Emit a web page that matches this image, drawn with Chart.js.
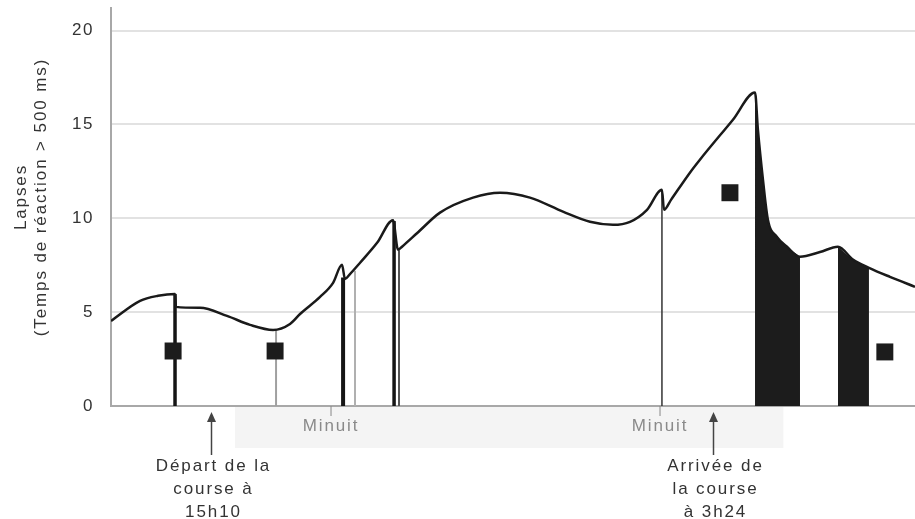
<!DOCTYPE html>
<html>
<head>
<meta charset="utf-8">
<script src="https://cdn.jsdelivr.net/npm/chart.js@4.4.1/dist/chart.umd.min.js"></script>
<style>
    html, body { margin: 0; padding: 0; background: #fff; }
    canvas { display: block; }
</style>
</head>
<body>
<canvas id="lapses" width="915" height="519"></canvas>
<script>
// temps en heures depuis le premier minuit, lapses
const curveHours = [-16.05, -13.93, -12.62, -11.38, -11.31, -9.56, -7.59, -5.91, -4.23, -2.99, -2.26, -0.80,
    0.15, 0.80, 1.02, 1.35, 2.12, 3.36, 4.52, 4.89, 5.2, 6.27, 7.95, 10.36, 12.33, 14.51, 16.92, 18.89, 20.57,
    21.81, 23.05, 24.14, 24.29, 24.8, 26.18, 26.91, 29.32, 30.93, 31.14, 31.51, 31.87, 32.53, 33.26, 34.21,
    35.67, 36.98, 38.07, 39.24, 40.77, 42.60];
const curveLapses = [4.53, 5.6, 5.87, 5.97, 5.28, 5.23, 4.8, 4.32, 4.05, 4.37, 4.9, 5.81,
    6.56, 7.52, 6.77, 7.0, 7.63, 8.69, 9.9, 8.32, 8.5, 9.2, 10.3, 11.1, 11.36, 11.1, 10.35, 9.81, 9.65,
    9.81, 10.45, 11.52, 10.45, 10.98, 12.43, 13.12, 15.25, 16.7, 14.72, 12.05, 9.92, 9.01, 8.48, 7.95,
    8.2, 8.48, 7.8, 7.36, 6.88, 6.35];

// zones noires sous la courbe (début, fin en heures)
const blackStart = [30.93, 36.98];
const blackEnd = [34.21, 39.24];

// traits verticaux
const dropHours = [-11.38, -4.01, 0.88, 1.75, 4.6, 4.96, 24.14];
const dropTop = [5.97, 4.05, 6.85, 7.2, 9.85, 8.3, 11.5];

// carrés
const squareHours = [-11.52, -4.08, 29.1, 40.4];
const squareLapses = [2.93, 2.93, 11.36, 2.88];

const yTicks = [0, 5, 10, 15, 20];
const midnightHours = [0, 24];
const eventHours = [-8.75, 27.87];
const eventLabels = [['Départ de la', 'course à', '15h10'], ['Arrivée de', 'la course', 'à 3h24']];
const nightBand = [-7.0, 33.0];
const yTitle = ['Lapses', '(Temps de réaction > 500 ms)'];

const FONT = "'Liberation Sans', Arial, sans-serif";
const dropStyle = [
    {w: 3.5, c: '#151515'}, {w: 2, c: '#a0a0a0'}, {w: 4, c: '#151515'}, {w: 2, c: '#b0b0b0'},
    {w: 3.5, c: '#151515'}, {w: 2, c: '#555'}, {w: 1.5, c: '#333'}
];

const curvePts = curveHours.map((h, i) => ({x: h, y: curveLapses[i]}));

const datasets = [];
datasets.push({
    data: squareHours.map((h, i) => ({x: h, y: squareLapses[i]})),
    showLine: false,
    pointStyle: 'rect',
    pointRadius: 12,
    pointBackgroundColor: '#1c1c1c',
    pointBorderWidth: 0
});
datasets.push({
    data: curvePts,
    showLine: true,
    borderColor: '#1a1a1a',
    borderWidth: 2.5,
    pointRadius: 0,
    cubicInterpolationMode: 'monotone',
    fill: false
});
for (let i = 0; i < dropHours.length; i++) {
    datasets.push({
        data: [{x: dropHours[i], y: 0}, {x: dropHours[i], y: dropTop[i]}],
        showLine: true,
        borderColor: dropStyle[i].c,
        borderWidth: dropStyle[i].w,
        pointRadius: 0,
        fill: false
    });
}
for (let i = 0; i < blackStart.length; i++) {
    datasets.push({
        data: curvePts.filter(p => p.x >= blackStart[i] && p.x <= blackEnd[i]),
        showLine: true,
        borderWidth: 0,
        borderColor: 'transparent',
        backgroundColor: '#1c1c1c',
        pointRadius: 0,
        cubicInterpolationMode: 'monotone',
        fill: 'origin'
    });
}

const decorations = {
    id: 'decorations',
    beforeDraw(chart) {
        const ctx = chart.ctx;
        const x = chart.scales.x;
        const area = chart.chartArea;
        ctx.letterSpacing = '1.5px';
        // bande grise sous l'axe
        ctx.save();
        ctx.fillStyle = '#f4f4f4';
        const b0 = x.getPixelForValue(nightBand[0]);
        const b1 = x.getPixelForValue(nightBand[1]);
        ctx.fillRect(b0, area.bottom + 1, b1 - b0, 41);
        ctx.restore();
    },
    afterDraw(chart) {
        const ctx = chart.ctx;
        const x = chart.scales.x;
        const area = chart.chartArea;
        ctx.save();
        ctx.letterSpacing = '1.9px';
        ctx.font = '17px ' + FONT;
        ctx.textAlign = 'center';
        ctx.textBaseline = 'middle';

        // titre de l'axe y
        ctx.fillStyle = '#333';
        ctx.save();
        ctx.translate(21, 197);
        ctx.rotate(-Math.PI / 2);
        ctx.fillText(yTitle[0], 0, 0);
        ctx.fillText(yTitle[1], 0, 20);
        ctx.restore();

        // minuit
        midnightHours.forEach(h => {
            const px = x.getPixelForValue(h);
            ctx.strokeStyle = '#888';
            ctx.lineWidth = 1;
            ctx.beginPath();
            ctx.moveTo(px, area.bottom);
            ctx.lineTo(px, area.bottom + 10);
            ctx.stroke();
            ctx.fillStyle = '#8a8a8a';
            ctx.fillText('Minuit', px, area.bottom + 20);
        });

        // départ / arrivée
        eventHours.forEach((h, i) => {
            const px = Math.round(x.getPixelForValue(h)) + 0.5;
            ctx.strokeStyle = '#444';
            ctx.fillStyle = '#444';
            ctx.lineWidth = 1.5;
            ctx.beginPath();
            ctx.moveTo(px, area.bottom + 49);
            ctx.lineTo(px, area.bottom + 14);
            ctx.stroke();
            ctx.beginPath();
            ctx.moveTo(px, area.bottom + 6);
            ctx.lineTo(px - 4.5, area.bottom + 16);
            ctx.lineTo(px + 4.5, area.bottom + 16);
            ctx.closePath();
            ctx.fill();
            ctx.fillStyle = '#333';
            eventLabels[i].forEach((line, k) => {
                ctx.fillText(line, px + 2, area.bottom + 60 + k * 23);
            });
        });
        ctx.restore();
    }
};

new Chart(document.getElementById('lapses').getContext('2d'), {
    type: 'scatter',
    data: {datasets: datasets},
    options: {
        responsive: false,
        animation: false,
        devicePixelRatio: 1,
        layout: {autoPadding: false, padding: {top: 8, left: 0, right: 0, bottom: 113}},
        plugins: {
            legend: {display: false},
            tooltip: {enabled: false}
        },
        scales: {
            x: {
                type: 'linear',
                min: -16.05,
                max: 42.6,
                ticks: {display: false},
                grid: {display: false},
                border: {display: true, color: '#a8a8a8', width: 2},
                afterFit: s => { s.height = 0; s.paddingLeft = 0; s.paddingRight = 0; }
            },
            y: {
                min: 0,
                max: 21.2,
                afterBuildTicks: s => { s.ticks = yTicks.map(v => ({value: v})); },
                afterFit: s => { s.width = 111; s.paddingTop = 0; s.paddingBottom = 0; },
                ticks: {
                    color: '#333',
                    padding: 17,
                    font: {size: 17, family: FONT}
                },
                grid: {
                    color: '#e2e2e2',
                    lineWidth: 2,
                    drawTicks: false
                },
                border: {display: true, color: '#a8a8a8', width: 2}
            }
        }
    },
    plugins: [decorations]
});
</script>
</body>
</html>
